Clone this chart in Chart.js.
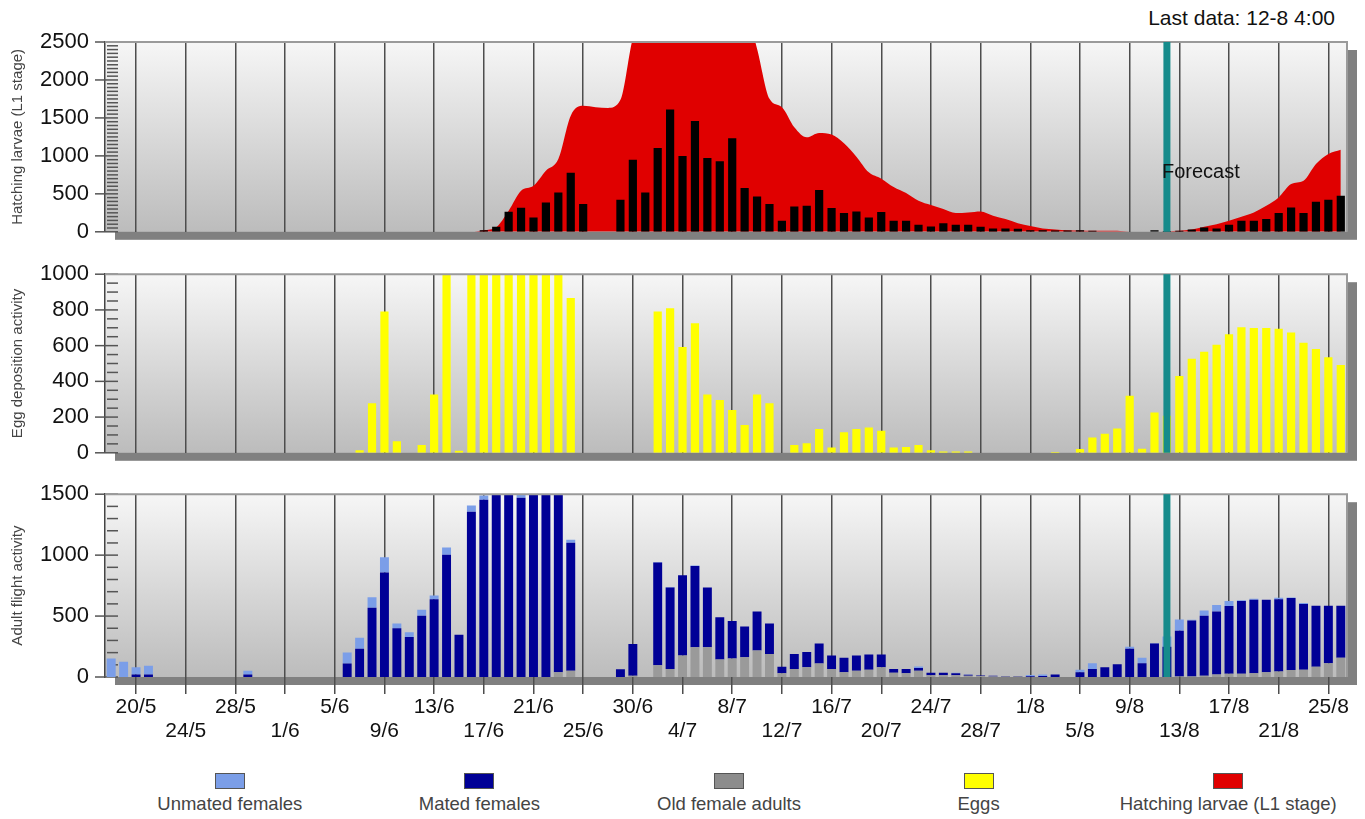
<!DOCTYPE html>
<html>
<head>
<meta charset="utf-8">
<script src="https://cdn.jsdelivr.net/npm/chart.js@4.4.1/dist/chart.umd.min.js"></script>
<style>
  html, body { margin: 0; padding: 0; background: #fff; }
  body { width: 1365px; height: 819px; position: relative; overflow: hidden; font-family: Arial, "Liberation Sans", sans-serif; }
  .panel { position: absolute; left: 0; width: 1365px; }
  #lastData { position: absolute; right: 30px; top: 6px; font-size: 21px; color: #111; }
  #forecast { position: absolute; left: 1162px; top: 160px; font-size: 20px; color: #111; }
  #legend { position: absolute; left: 105px; top: 773px; width: 1248px; display: flex; }
  .item { flex: 1; text-align: center; font-size: 18.5px; color: #444; }
  .box { width: 30px; height: 16px; margin: 0 auto 4px; border: 1px solid #555; box-sizing: border-box; }
</style>
</head>
<body>
<div id="lastData">Last data: 12-8 4:00</div>
<div class="panel" style="top:0;height:261px"><canvas id="larvaeChart"></canvas></div>
<div class="panel" style="top:245px;height:237px"><canvas id="eggChart"></canvas></div>
<div class="panel" style="top:465px;height:295px"><canvas id="adultChart"></canvas></div>
<div id="forecast">Forecast</div>
<div id="legend"></div>
<script>
// one category per day, 18/5 .. 26/8
const dayCount = 100;
const days = Array.from({ length: dayCount }, (_, i) => i);

// date labels, one every 4 days starting with the 3rd day
const tickLabels = ['20/5', '24/5', '28/5', '1/6', '5/6', '9/6', '13/6', '17/6', '21/6', '25/6',
  '30/6', '4/7', '8/7', '12/7', '16/7', '20/7', '24/7', '28/7', '1/8', '5/8',
  '9/8', '13/8', '17/8', '21/8', '25/8'];
const firstTick = 2;
const tickEvery = 4;
const lastDataIndex = 85; // 12/8

// Hatching larvae (L1 stage) - modelled curve
const larvaeModel = [
  0, 0, 0, 0, 0, 0, 0, 0, 0, 0,
  0, 0, 0, 0, 0, 0, 0, 0, 0, 0,
  0, 0, 0, 0, 0, 0, 0, 0, 0, 0,
  20, 60, 277, 541, 607, 805, 960, 1530, 1659, 1641,
  1632, 1738, 2550, 2900, 3100, 3200, 3200, 3100, 3000, 3000,
  3000, 2970, 2411, 1751, 1641, 1377, 1245, 1302, 1280, 1166,
  990, 783, 700, 590, 510, 409, 352, 299, 246, 255,
  268, 211, 167, 114, 75, 44, 31, 22, 18, 13,
  13, 13, 0, 0, 0, 5, 13, 31, 66, 101,
  145, 198, 255, 343, 453, 629, 673, 893, 1025, 1082
];
// Hatching larvae - daily bars
const larvaeBars = [
  0, 0, 0, 0, 0, 0, 0, 0, 0, 0,
  0, 0, 0, 0, 0, 0, 0, 0, 0, 0,
  0, 0, 0, 0, 0, 0, 0, 0, 0, 0,
  22, 66, 264, 317, 189, 387, 519, 779, 365, 0,
  0, 422, 950, 519, 1104, 1610, 999, 1461, 972, 928,
  1232, 576, 466, 365, 145, 334, 343, 550, 312, 246,
  268, 189, 260, 145, 145, 92, 70, 114, 92, 92,
  66, 44, 44, 40, 22, 22, 18, 18, 22, 13,
  0, 0, 0, 0, 22, 10, 13, 31, 57, 44,
  92, 145, 145, 167, 246, 321, 246, 396, 422, 475
];
// Egg deposition activity
const eggs = [
  0, 0, 0, 0, 0, 0, 0, 0, 0, 0,
  0, 0, 0, 0, 0, 0, 0, 0, 0, 0,
  14, 278, 791, 65, 0, 44, 327, 1100, 12, 1100,
  1100, 1100, 1100, 1100, 1100, 1100, 1100, 867, 0, 0,
  0, 0, 0, 0, 791, 809, 593, 726, 327, 296,
  239, 156, 327, 278, 0, 44, 53, 133, 30, 115,
  133, 142, 124, 30, 32, 44, 14, 7, 7, 7,
  0, 0, 0, 0, 0, 0, 5, 0, 21, 85,
  106, 136, 319, 23, 225, 207, 430, 526, 566, 605,
  664, 703, 699, 699, 694, 673, 616, 581, 535, 492
];
// Adult flight activity
const oldFemales = [
  0, 0, 0, 0, 0, 0, 0, 0, 0, 0,
  0, 0, 0, 0, 0, 0, 0, 0, 0, 0,
  0, 0, 0, 0, 0, 0, 0, 0, 0, 0,
  0, 0, 0, 0, 0, 0, 39, 52, 0, 0,
  0, 0, 10, 0, 97, 66, 176, 244, 244, 144,
  152, 163, 218, 189, 30, 66, 79, 110, 66, 39,
  52, 60, 79, 34, 30, 52, 15, 15, 15, 10,
  8, 5, 5, 5, 0, 0, 0, 0, 0, 0,
  0, 0, 0, 0, 0, 0, 5, 5, 10, 21,
  26, 26, 31, 39, 45, 58, 60, 84, 113, 157
];
const matedFemales = [
  0, 0, 21, 21, 0, 0, 0, 0, 0, 0,
  0, 21, 0, 0, 0, 0, 0, 0, 0, 110,
  231, 569, 857, 401, 328, 503, 637, 1004, 346, 1356,
  1455, 1580, 1600, 1470, 1620, 1560, 1520, 1049, 0, 0,
  0, 63, 260, 0, 842, 668, 658, 666, 490, 346,
  307, 251, 320, 251, 54, 123, 126, 165, 110, 118,
  124, 124, 105, 32, 36, 21, 19, 19, 15, 8,
  5, 5, 3, 3, 6, 8, 21, 0, 39, 66,
  79, 105, 231, 113, 275, 249, 375, 459, 493, 516,
  556, 598, 603, 595, 592, 590, 538, 501, 472, 428
];
const unmatedFemales = [
  152, 126, 58, 71, 0, 0, 0, 0, 0, 0,
  0, 31, 0, 0, 0, 0, 0, 0, 0, 92,
  91, 86, 126, 39, 39, 48, 32, 58, 0, 52,
  34, 0, 0, 60, 0, 20, 0, 26, 0, 0,
  0, 0, 0, 0, 5, 5, 0, 5, 0, 0,
  0, 0, 0, 0, 0, 0, 0, 0, 0, 0,
  0, 0, 0, 0, 0, 14, 0, 0, 5, 3,
  0, 0, 0, 0, 10, 13, 0, 0, 21, 47,
  0, 0, 18, 44, 5, 84, 92, 5, 42, 53,
  42, 5, 8, 0, 13, 5, 10, 0, 0, 0
];

const colors = {
  unmated: '#7b9ee8',
  mated: '#000096',
  old: '#9a9a9a',
  eggs: '#ffff00',
  larvae: '#e00000'
};

const legendItems = [
  ['Unmated females', colors.unmated],
  ['Mated females', colors.mated],
  ['Old female adults', '#8c8c8c'],
  ['Eggs', colors.eggs],
  ['Hatching larvae (L1 stage)', colors.larvae]
];

Chart.defaults.font.family = 'Arial, "Liberation Sans", sans-serif';
Chart.defaults.animation = false;

function isTick(i) {
  return i >= firstTick && (i - firstTick) % tickEvery === 0;
}

function tickText(i) {
  if (!isTick(i)) return '';
  const k = (i - firstTick) / tickEvery;
  return k % 2 === 0 ? tickLabels[k] : ['', tickLabels[k]];
}

// background, shadow, minor ticks, frame and forecast line
const panelDecor = {
  id: 'panelDecor',
  beforeDraw(chart) {
    const { ctx, chartArea: a } = chart;
    ctx.save();
    ctx.fillStyle = '#808080';
    ctx.fillRect(a.left + 10, a.top + 8, a.width, a.height);
    const g = ctx.createLinearGradient(0, a.top, 0, a.bottom);
    g.addColorStop(0, '#f6f6f6');
    g.addColorStop(1, '#bcbcbc');
    ctx.fillStyle = g;
    ctx.fillRect(a.left, a.top, a.width, a.height);
    ctx.restore();
  },
  beforeDatasetsDraw(chart, args, opts) {
    const { ctx, chartArea: a } = chart;
    const y = chart.scales.y;
    ctx.save();
    ctx.strokeStyle = '#555';
    ctx.lineWidth = 1.5;
    for (let v = y.min; v <= y.max; v += opts.minor) {
      const py = y.getPixelForValue(v);
      ctx.beginPath();
      ctx.moveTo(v % opts.major === 0 ? a.left - 10 : a.left + 2, py);
      ctx.lineTo(a.left + 13, py);
      ctx.stroke();
    }
    ctx.restore();
  },
  afterDatasetsDraw(chart) {
    const { ctx, chartArea: a } = chart;
    ctx.save();
    ctx.strokeStyle = '#9a9a9a';
    ctx.lineWidth = 2;
    ctx.beginPath();
    ctx.moveTo(a.left, a.top);
    ctx.lineTo(a.right, a.top);
    ctx.lineTo(a.right, a.bottom);
    ctx.stroke();
    const x = chart.scales.x.getPixelForValue(lastDataIndex);
    ctx.fillStyle = '#168b8b';
    ctx.fillRect(x - 3.5, a.top, 7, a.height);
    ctx.restore();
  }
};

function xScale(showLabels, height, stacked) {
  return {
    type: 'category',
    offset: true,
    stacked: stacked,
    grid: {
      offset: false,
      drawTicks: showLabels,
      tickLength: 17,
      lineWidth: 1.5,
      color: (ctx) => isTick(ctx.index) ? '#4d4d4d' : 'rgba(0,0,0,0)'
    },
    border: { display: false },
    ticks: {
      display: showLabels,
      autoSkip: false,
      maxRotation: 0,
      minRotation: 0,
      padding: 1,
      color: '#111',
      font: { size: 21, lineHeight: 1.15 },
      callback: (v, i) => tickText(i)
    },
    afterFit: (s) => { s.height = height; }
  };
}

function yScale(max, major, title, stacked) {
  return {
    min: 0,
    max: max,
    stacked: stacked,
    grid: { display: false, drawTicks: false },
    border: { display: true, color: '#444', width: 1.5 },
    ticks: {
      stepSize: major,
      padding: 16,
      color: '#111',
      font: { size: 22 },
      callback: (v) => String(v)
    },
    title: {
      display: true,
      text: title,
      color: '#444',
      font: { size: 15 },
      padding: { top: 9, bottom: 0 }
    },
    afterFit: (s) => { s.width = 105; }
  };
}

function baseOptions(padTop, xHeight, showLabels, max, major, minor, title, stacked) {
  return {
    responsive: true,
    maintainAspectRatio: false,
    layout: { padding: { top: padTop, right: 18, left: 0, bottom: 0 } },
    plugins: {
      legend: { display: false },
      tooltip: { enabled: false },
      panelDecor: { minor: minor, major: major }
    },
    scales: {
      x: xScale(showLabels, xHeight, stacked),
      y: yScale(max, major, title, stacked)
    }
  };
}

new Chart(document.getElementById('larvaeChart'), {
  type: 'bar',
  data: {
    labels: days,
    datasets: [
      {
        type: 'bar',
        label: 'Hatching larvae',
        data: larvaeBars,
        backgroundColor: '#000',
        barPercentage: 0.66,
        categoryPercentage: 1,
        order: 0
      },
      {
        type: 'line',
        label: 'Hatching larvae (L1 stage)',
        data: larvaeModel,
        fill: 'origin',
        backgroundColor: colors.larvae,
        borderWidth: 0,
        pointRadius: 0,
        cubicInterpolationMode: 'monotone',
        order: 1
      }
    ]
  },
  options: baseOptions(42, 14, false, 2500, 500, 50, 'Hatching larvae (L1 stage)', false),
  plugins: [panelDecor]
});

new Chart(document.getElementById('eggChart'), {
  type: 'bar',
  data: {
    labels: days,
    datasets: [{
      label: 'Eggs',
      data: eggs,
      backgroundColor: colors.eggs,
      barPercentage: 0.66,
      categoryPercentage: 1
    }]
  },
  options: baseOptions(20, 12, false, 1000, 200, 50, 'Egg deposition activity', false),
  plugins: [panelDecor]
});

new Chart(document.getElementById('adultChart'), {
  type: 'bar',
  data: {
    labels: days,
    datasets: [
      { label: 'Old female adults', data: oldFemales, backgroundColor: colors.old, barPercentage: 0.72, categoryPercentage: 1 },
      { label: 'Mated females', data: matedFemales, backgroundColor: colors.mated, barPercentage: 0.72, categoryPercentage: 1 },
      { label: 'Unmated females', data: unmatedFemales, backgroundColor: colors.unmated, barPercentage: 0.72, categoryPercentage: 1 }
    ]
  },
  options: baseOptions(21, 83, true, 1500, 500, 100, 'Adult flight activity', true),
  plugins: [panelDecor]
});

const legend = document.getElementById('legend');
legendItems.forEach(([name, color]) => {
  const item = document.createElement('div');
  item.className = 'item';
  item.innerHTML = '<div class="box" style="background:' + color + '"></div>' + name;
  legend.appendChild(item);
});
</script>
</body>
</html>
